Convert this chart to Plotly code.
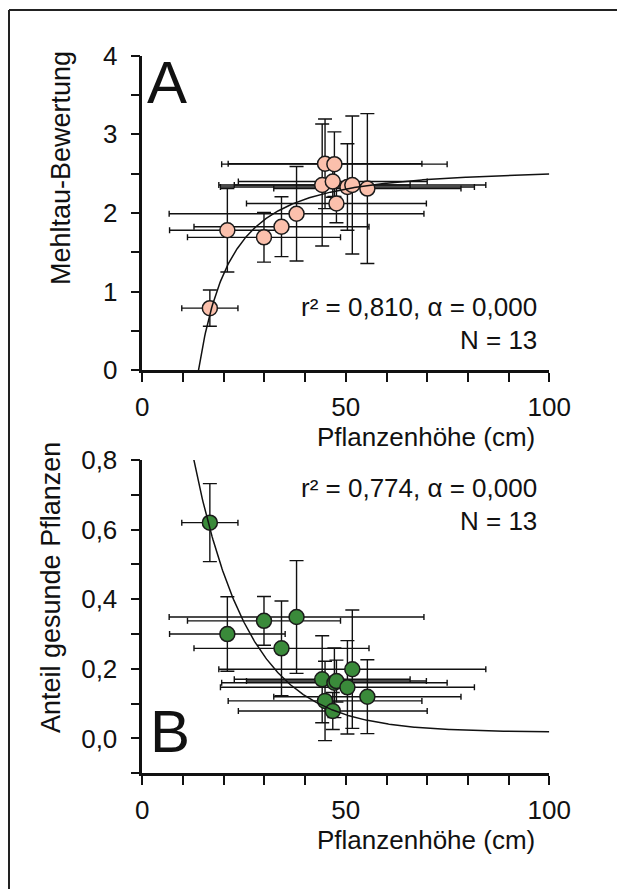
import numpy as np
import plotly.graph_objects as go

# ---------------- data ----------------
hoehe = [16.6, 20.9, 29.9, 34.2, 37.9, 44.2, 44.9, 47.2, 46.8, 47.7, 50.4, 51.6, 55.3]
hoehe_err = [6.9, 14.2, 18.8, 21.5, 31.3, 21.6, 23.8, 27.7, 23.2, 22.1, 31.2, 32.8, 23.0]

mehltau = [0.79, 1.78, 1.69, 1.825, 1.99, 2.355, 2.625, 2.62, 2.40, 2.12, 2.33, 2.355, 2.31]
mehltau_err = [0.23, 0.53, 0.315, 0.38, 0.60, 0.775, 0.57, 0.41, 0.20, 0.245, 0.55, 0.877, 0.953]

gesund = [0.62, 0.30, 0.338, 0.259, 0.349, 0.17, 0.108, 0.16, 0.079, 0.165, 0.147, 0.199, 0.12]
gesund_err = [0.112, 0.107, 0.07, 0.136, 0.162, 0.125, 0.114, 0.10, 0.053, 0.06, 0.134, 0.17, 0.106]

# fitted regression models (parameters estimated from the drawn curves)
fitA = dict(a=2.575, b=254.5, n=1.75)      # y = a - b * x^-n
fitB = dict(a=0.018, b=1.982, c=0.0735)    # y = a + b * exp(-c x)

xticks = [0, 10, 20, 30, 40, 50, 60, 70, 80, 90, 100]
xticktext = ["0", "", "", "", "", "50", "", "", "", "", "100"]
yA_ticks = [0, 0.5, 1, 1.5, 2, 2.5, 3, 3.5, 4]
yA_text = ["0", "", "1", "", "2", "", "3", "", "4"]
yB_ticks = [-0.1, 0, 0.1, 0.2, 0.3, 0.4, 0.5, 0.6, 0.7, 0.8]
yB_text = ["", "0,0", "", "0,2", "", "0,4", "", "0,6", "", "0,8"]

statsA = ["r² = 0,810, α = 0,000", "N = 13"]
statsB = ["r² = 0,774, α = 0,000", "N = 13"]
x_title = "Pflanzenhöhe (cm)"
yA_title = "Mehltau-Bewertung"
yB_title = "Anteil gesunde Pflanzen"

# ---------------- figure ----------------
W, H = 617, 889
def px(x):
    return x / W
def py(y):
    return 1 - y / H

REG = "Liberation Sans, Arial, sans-serif"

colA = "#FBC0AC"
colB = "#3A8A3A"

fig = go.Figure()

def add_points(xa, ya, ydata, yerr, color):
    fig.add_trace(go.Scatter(
        x=hoehe, y=ydata, mode="markers", xaxis=xa, yaxis=ya,
        marker=dict(size=15, color=color, line=dict(color="#1a1a1a", width=1.5)),
        error_x=dict(type="data", array=hoehe_err, color="#111", thickness=1.4, width=3),
        error_y=dict(type="data", array=yerr, color="#111", thickness=1.4, width=7),
        showlegend=False, cliponaxis=False))

add_points("x", "y", mehltau, mehltau_err, colA)
add_points("x2", "y2", gesund, gesund_err, colB)

# fitted curves
x0A = (fitA["b"] / fitA["a"]) ** (1 / fitA["n"])
xa = np.linspace(x0A, 100, 400)
ya = fitA["a"] - fitA["b"] * xa ** (-fitA["n"])
fig.add_trace(go.Scatter(x=xa, y=ya, mode="lines", xaxis="x", yaxis="y",
                         line=dict(color="#111", width=1.5), showlegend=False))
xb = np.linspace(12.3, 100, 400)
yb = fitB["a"] + fitB["b"] * np.exp(-fitB["c"] * xb)
fig.add_trace(go.Scatter(x=xb, y=yb, mode="lines", xaxis="x2", yaxis="y2",
                         line=dict(color="#111", width=1.5), showlegend=False))

xdom = [px(142.3), px(549.3)]
axis_common = dict(showline=True, linecolor="#111", linewidth=2.5, ticks="outside",
                   ticklen=9, tickwidth=2, tickcolor="#111", showgrid=False,
                   zeroline=False, tickmode="array", automargin=False,
                   tickfont=dict(family=REG, size=26, color="#111"))

fig.update_layout(
    autosize=True, margin=dict(l=0, r=0, t=0, b=0, autoexpand=False),
    paper_bgcolor="white", plot_bgcolor="white",
    xaxis=dict(domain=xdom, range=[0, 100], anchor="y", tickvals=xticks,
               ticktext=xticktext, ticklabelstandoff=3, **axis_common),
    yaxis=dict(domain=[py(370.3), py(55.6)], range=[0, 4], anchor="x",
               tickvals=yA_ticks, ticktext=yA_text, ticklabelstandoff=8, **axis_common),
    xaxis2=dict(domain=xdom, range=[0, 100], anchor="y2", tickvals=xticks,
                ticktext=xticktext, ticklabelstandoff=3, **axis_common),
    yaxis2=dict(domain=[py(773.3), py(460)], range=[-0.1, 0.8], anchor="x2",
                tickvals=yB_ticks, ticktext=yB_text, ticklabelstandoff=8, **axis_common),
)

ann = []
def text(x, y, s, size, family, xanchor="center", angle=0):
    ann.append(dict(x=px(x), y=py(y), xref="paper", yref="paper", text=s,
                    showarrow=False, xanchor=xanchor, yanchor="middle",
                    textangle=angle, font=dict(family=family, size=size, color="#111")))

text(537, 437, x_title, 26, REG, "right")
text(537, 840, x_title, 26, REG, "right")
text(61, 168, yA_title, 27, REG, "center", -90)
text(51, 588, yB_title, 27, REG, "center", -90)
text(145, 83, "A", 60, REG, "left")
text(148, 731, "B", 60, REG, "left")
text(539, 307, statsA[0], 26, REG, "right")
text(539, 340, statsA[1], 26, REG, "right")
text(539, 488, statsB[0], 26, REG, "right")
text(539, 521, statsB[1], 26, REG, "right")
fig.update_layout(annotations=ann)

# frame (left and top edge)
fig.add_shape(type="line", xref="paper", yref="paper", x0=px(9), x1=px(9), y0=0, y1=py(10),
              line=dict(color="#222", width=2))
fig.add_shape(type="line", xref="paper", yref="paper", x0=px(9), x1=1, y0=py(10), y1=py(10),
              line=dict(color="#222", width=2))

pin_page = ("document.body.style.margin='0';"
            "document.documentElement.style.overflow='hidden';"
            "document.body.style.overflow='hidden';")
fig.write_html("out.html", config={"displayModeBar": False}, post_script=pin_page,
               default_width="%dpx;position:fixed;left:0px;top:0px;margin:0" % W,
               default_height="%dpx" % H)
